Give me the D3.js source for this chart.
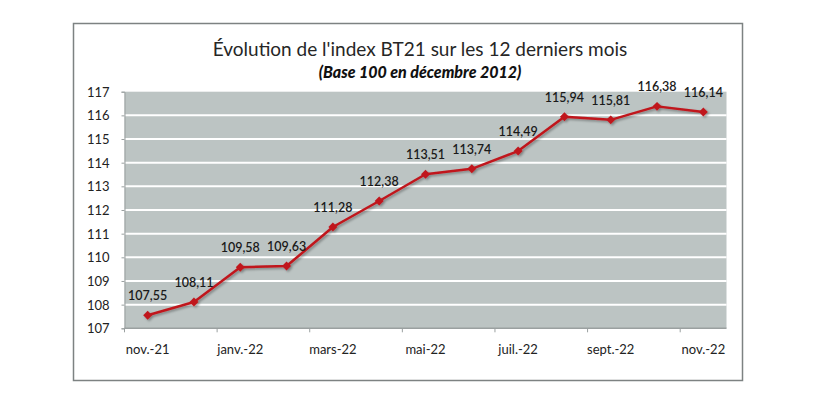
<!DOCTYPE html>
<html><head><meta charset="utf-8">
<script src="https://cdn.jsdelivr.net/npm/d3@7"></script>
<style>
html,body{margin:0;padding:0;background:#fff;}
svg{display:block;}
</style></head>
<body>
<svg id="c" width="835" height="393"></svg>
<script>
const categories = ["nov.-21","déc.-21","janv.-22","févr.-22","mars-22","avr.-22","mai-22","juin-22","juil.-22","août-22","sept.-22","oct.-22","nov.-22"];
const values = [107.55,108.11,109.58,109.63,111.28,112.38,113.51,113.74,114.49,115.94,115.81,116.38,116.14];
const yTicks = [107,108,109,110,111,112,113,114,115,116,117];
const title = "Évolution de l'index BT21 sur les 12 derniers mois";
const subtitle = "(Base 100 en décembre 2012)";

const svg = d3.select("#c");
const font = "Lato, 'Open Sans', sans-serif";
const L = 124.5, R = 726.5, T = 91.7, B = 328.3;

const defs = svg.append("defs");
const f = defs.append("filter").attr("id","sh").attr("x","-5%").attr("y","-5%").attr("width","110%").attr("height","110%");
f.append("feDropShadow").attr("dx",1.5).attr("dy",1.5).attr("stdDeviation",1.2).attr("flood-color","#000").attr("flood-opacity",0.35);

// outer frame
svg.append("rect").attr("x",73.5).attr("y",23.5).attr("width",669).attr("height",357)
  .attr("fill","#fff").attr("stroke","#7d8282").attr("stroke-width",1.5);

const x = d3.scaleBand().domain(categories).range([L,R]).padding(0);
const y = d3.scaleLinear().domain([107,117]).range([B,T]);

// plot background
svg.append("rect").attr("x",L).attr("y",T).attr("width",R-L).attr("height",B-T).attr("fill","#bcc4c3");

// gridlines
svg.append("g").selectAll("line").data(yTicks.filter(d=>d>107 && d<117)).join("line")
  .attr("x1",L).attr("x2",R).attr("y1",d=>y(d)).attr("y2",d=>y(d))
  .attr("stroke","#fff").attr("stroke-width",2);

// y axis
const yAxis = d3.axisLeft(y).tickValues(yTicks).tickSize(3).tickFormat(d3.format("d"));
const gy = svg.append("g").attr("transform",`translate(${L},0)`).call(yAxis);
gy.select(".domain").attr("stroke","#9aa0a0");
gy.selectAll(".tick line").attr("stroke","#9aa0a0");
gy.selectAll("text").attr("font-family",font).attr("font-size",13).attr("fill","#222").attr("x",-15).attr("dy","0.35em");

// x axis: labels every 2 months, ticks at band boundaries
const labelCats = categories.filter((d,i)=>i%2===0);
const gx = svg.append("g").attr("transform",`translate(0,${B})`);
gx.append("line").attr("x1",L).attr("x2",R).attr("y1",0).attr("y2",0).attr("stroke","#9aa0a0").attr("stroke-width",1.5);
gx.selectAll(".tk").data(labelCats).join("line").attr("class","tk")
  .attr("x1",d=>x(d)).attr("x2",d=>x(d)).attr("y1",0).attr("y2",4).attr("stroke","#9aa0a0");
gx.selectAll("text").data(labelCats).join("text")
  .attr("x",d=>x(d)+x.bandwidth()/2).attr("y",26)
  .attr("text-anchor","middle").attr("font-family",font).attr("font-size",13).attr("fill","#222")
  .text(d=>d);

// line
const pts = categories.map((c,i)=>({c, v: values[i]}));
const line = d3.line().x(d=>x(d.c)+x.bandwidth()/2).y(d=>y(d.v));
const series = svg.append("g").attr("filter","url(#sh)");
series.append("path").datum(pts).attr("d",line).attr("fill","none").attr("stroke","#c0161c").attr("stroke-width",2.5).attr("stroke-linejoin","round");
series.selectAll("path.m").data(pts).join("path").attr("class","m")
  .attr("d",d3.symbol(d3.symbolSquare, 40))
  .attr("transform",d=>`translate(${x(d.c)+x.bandwidth()/2},${y(d.v)}) rotate(45)`)
  .attr("fill","#c0161c");

// data labels
svg.append("g").selectAll("text").data(pts).join("text")
  .attr("x",d=>x(d.c)+x.bandwidth()/2).attr("y",d=>y(d.v)-15)
  .attr("text-anchor","middle").attr("font-family",font).attr("font-size",12.5).attr("font-weight",600).attr("fill","#1a1a1a")
  .text(d=>d3.format(".2f")(d.v).replace(".",","));

// titles
svg.append("text").attr("x",420).attr("y",56).attr("text-anchor","middle").attr("font-family",font).attr("font-size",19).attr("fill","#262626").text(title);
svg.append("text").attr("x",420).attr("y",78).attr("text-anchor","middle").attr("font-family",font).attr("font-size",16).attr("font-weight",900).attr("font-style","italic").attr("fill","#111").text(subtitle);
</script>
</body></html>
